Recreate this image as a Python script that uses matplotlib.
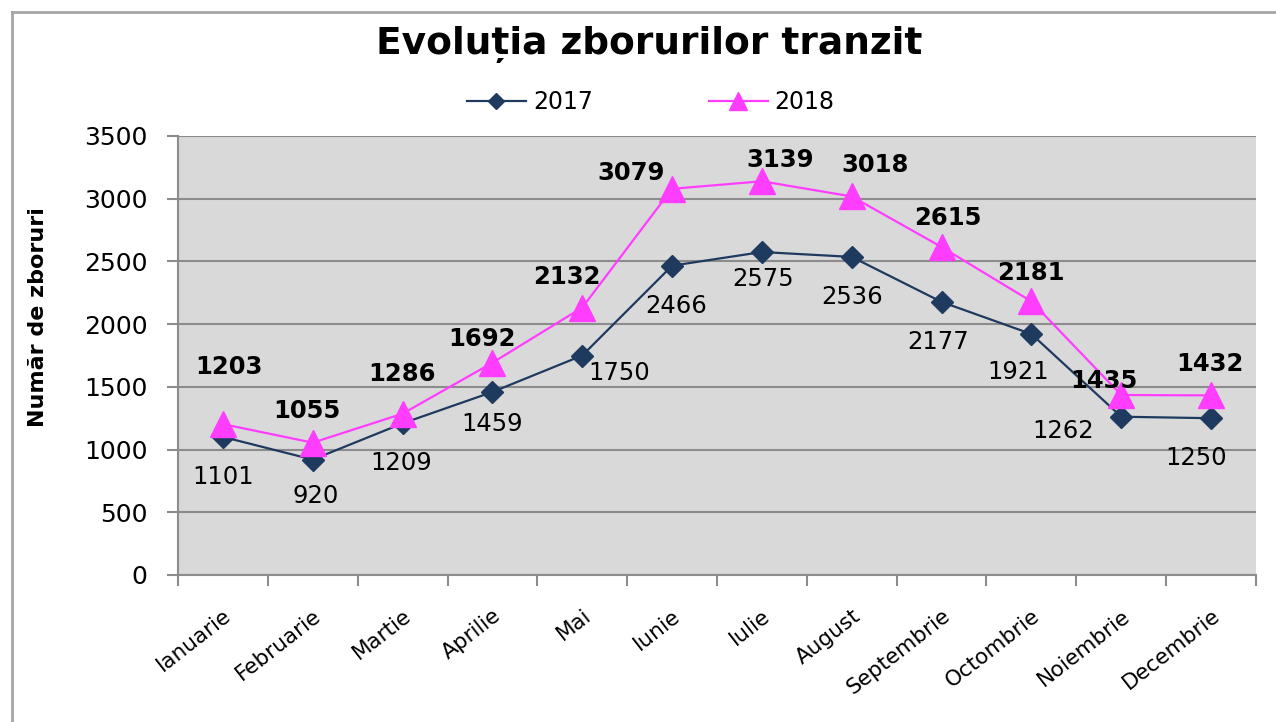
import matplotlib
matplotlib.use("Agg")
import matplotlib.pyplot as plt
from matplotlib.lines import Line2D
import numpy as np

# data
months = ["Ianuarie", "Februarie", "Martie", "Aprilie", "Mai", "Iunie",
          "Iulie", "August", "Septembrie", "Octombrie", "Noiembrie", "Decembrie"]
flights_2017 = [1101, 920, 1209, 1459, 1750, 2466, 2575, 2536, 2177, 1921, 1262, 1250]
flights_2018 = [1203, 1055, 1286, 1692, 2132, 3079, 3139, 3018, 2615, 2181, 1435, 1432]

# label offsets in pixels (dx, dy), picked by eye
off_2017 = [(0, -40), (3, -36), (-1, -40), (0, -32), (37, -18), (4, -40),
            (1, -27), (0, -40), (-3, -40), (-13, -38), (-58, -14), (-15, -40)]
off_2018 = [(6, 57), (-6, 32), (-1, 40), (-10, 24), (-15, 31), (-41, 16),
            (18, 21), (23, 31), (6, 29), (-1, 28), (-17, 14), (-1, 31)]

c17 = "#1f3a5f"
c18 = "#ff3dff"
grid_c = "#8c8c8c"

fig = plt.figure(figsize=(12.76, 7.22), dpi=100)
ax = fig.add_axes([178 / 1276, 1 - 575 / 722, (1256 - 178) / 1276, (575 - 136) / 722])
ax.set_facecolor("#d9d9d9")

x = np.arange(len(months))
ax.plot(x, flights_2017, color=c17, lw=1.6, marker="D", ms=11, mfc=c17, mec=c17, label="2017", zorder=3)
ax.plot(x, flights_2018, color=c18, lw=1.6, marker="^", ms=19, mfc=c18, mec=c18, label="2018", zorder=4)

for i, v in enumerate(flights_2017):
    ax.annotate(str(v), (x[i], v), xytext=off_2017[i], textcoords="offset pixels",
                ha="center", va="center", fontsize=17.5, color="black", zorder=5)
for i, v in enumerate(flights_2018):
    ax.annotate(str(v), (x[i], v), xytext=off_2018[i], textcoords="offset pixels",
                ha="center", va="center", fontsize=17.5, fontweight="bold", color="black", zorder=5)

ax.set_xlim(-0.5, len(months) - 0.5)
ax.set_ylim(0, 3500)
ax.set_yticks(np.arange(0, 3501, 500))
ax.yaxis.grid(True, color=grid_c, lw=1.5)
ax.set_axisbelow(True)

ax.set_xticks(x)
ax.set_xticklabels(months, rotation=38, ha="right", rotation_mode="anchor", fontsize=15.5)
ax.set_xticks(np.arange(-0.5, len(months), 1), minor=True)
ax.tick_params(axis="x", which="major", length=0, pad=22)
ax.tick_params(axis="x", which="minor", length=8, color=grid_c, width=1.5, direction="out")
ax.tick_params(axis="y", length=8, color=grid_c, width=1.5, labelsize=18, pad=14)

for s in ["top", "right"]:
    ax.spines[s].set_visible(False)
for s in ["left", "bottom"]:
    ax.spines[s].set_color(grid_c)
    ax.spines[s].set_linewidth(1.5)

fig.text(38 / 1276, 1 - 317 / 722, "Număr de zboruri", rotation=90, ha="center", va="center",
         fontsize=16, fontweight="bold")

fig.text(0.509, 0.938, "Evoluția zborurilor tranzit", ha="center", va="center",
         fontsize=27, fontweight="bold")

leg = fig.legend(loc="center", bbox_to_anchor=(0.51, 0.859), ncol=2, frameon=False,
                 fontsize=17, handlelength=2.5, columnspacing=4.9, markerscale=0.7,
                 handletextpad=0.3)

# outer chart border
fig.add_artist(Line2D([12 / 1276, 12 / 1276], [0, 1 - 12 / 722], color="#a6a6a6", lw=2,
                      transform=fig.transFigure))
fig.add_artist(Line2D([12 / 1276, 1], [1 - 12 / 722, 1 - 12 / 722], color="#a6a6a6", lw=2,
                      transform=fig.transFigure))

fig.savefig("out.png", dpi=100)
